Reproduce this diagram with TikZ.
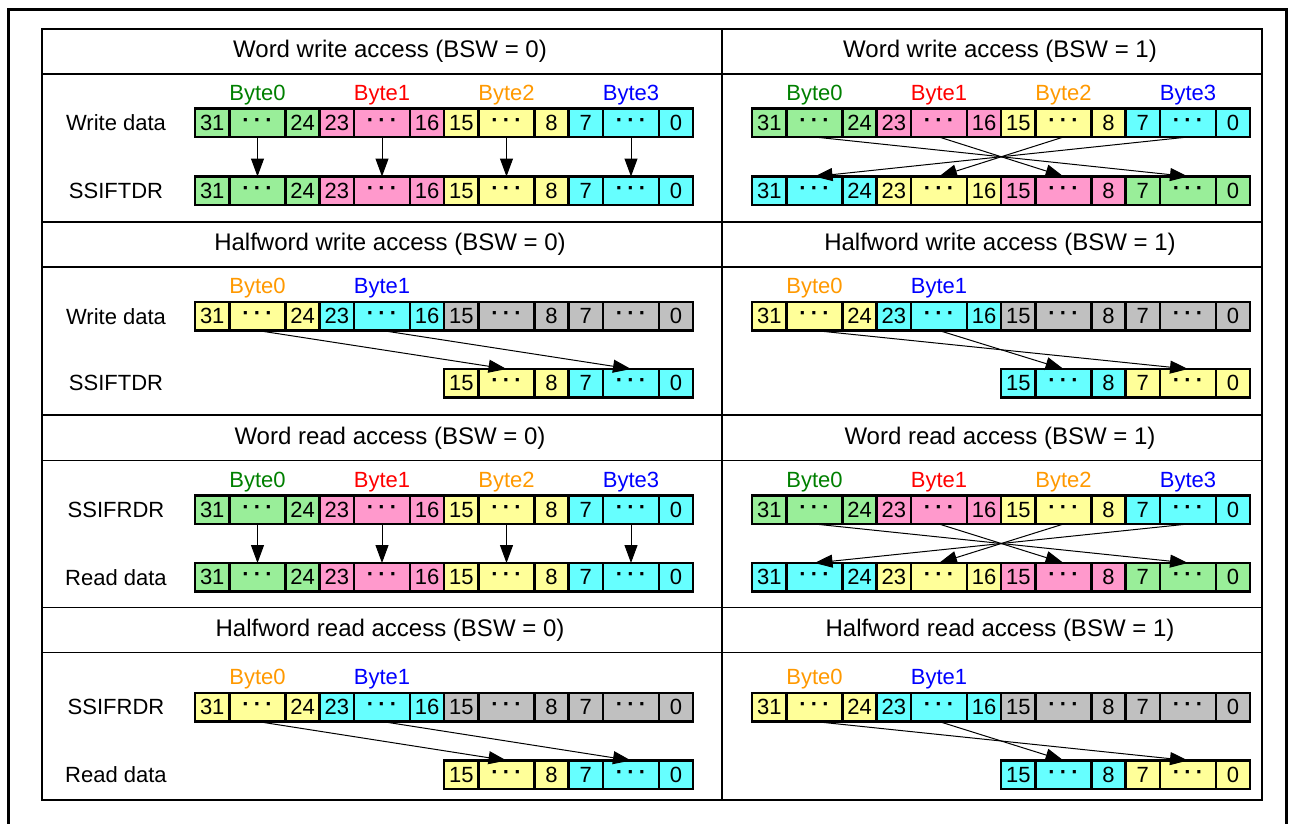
\documentclass[tikz,border=0pt]{standalone}
\usepackage{fontspec}
\setmainfont{Liberation Sans}
\usetikzlibrary{arrows.meta,calc}
\definecolor{cgreen}{HTML}{99EE99}
\definecolor{cpink}{HTML}{FF99CC}
\definecolor{cyel}{HTML}{FFFF99}
\definecolor{ccyan}{HTML}{66FFFF}
\definecolor{cgray}{HTML}{C0C0C0}
\definecolor{bgreen}{HTML}{008000}
\definecolor{bred}{HTML}{FF0000}
\definecolor{borange}{HTML}{FF9900}
\definecolor{bblue}{HTML}{0000FF}
\tikzset{
 cell/.style={draw=black,line width=2.5pt,inner sep=0pt,outer sep=0pt,minimum height=28.5pt,anchor=north west,font=\fontsize{22}{26}\selectfont},
 gridline/.style={line width=1.5pt,black},
 frameline/.style={line width=3pt,black},
 hdr/.style={font=\fontsize{24}{28}\selectfont},
 side/.style={font=\fontsize{22}{26}\selectfont},
 blbl/.style={font=\fontsize{22}{26}\selectfont},
 arr/.style={line width=1pt,-{Triangle[length=18pt,width=13pt]}},
}
\newcommand\dotsx{\bfseries\makebox[11.5pt]{·}\makebox[11.5pt]{·}\makebox[11.5pt]{·}}
\newcommand\bgrp[6]{%
 \node[cell,fill=#4,minimum width=34.5pt] (#1a) at (#2,#3) {#5};
 \node[cell,fill=#4,minimum width=56pt] (#1b) at (#1a.north east) {\dotsx};
 \node[cell,fill=#4,minimum width=34pt] (#1c) at (#1b.north east) {#6};}
\newcommand\wreg[7]{%
 \bgrp{#11}{#2}{#3}{#4}{31}{24}
 \bgrp{#12}{#2+124.5}{#3}{#5}{23}{16}
 \bgrp{#13}{#2+249}{#3}{#6}{15}{8}
 \bgrp{#14}{#2+373.5}{#3}{#7}{7}{0}}
\newcommand\hreg[5]{%
 \bgrp{#13}{#2+249}{#3}{#4}{15}{8}
 \bgrp{#14}{#2+373.5}{#3}{#5}{7}{0}}
\newcommand\blab[3]{\node[blbl,text=#2] (#1L) at ([yshift=13.5pt]#1.north) {#3};}
\newcommand\wordsec[5]{%
 \node[side] (#1Lt) at (116,#2+14.25) {#4};
 \node[side] (#1Lb) at (116,#3+14.25) {#5};
 \wreg{#1Lu}{195}{#2}{cgreen}{cpink}{cyel}{ccyan}
 \wreg{#1Ld}{195}{#3}{cgreen}{cpink}{cyel}{ccyan}
 \blab{#1Lu1b}{bgreen}{Byte0}\blab{#1Lu2b}{bred}{Byte1}
 \blab{#1Lu3b}{borange}{Byte2}\blab{#1Lu4b}{bblue}{Byte3}
 \draw[arr] (#1Lu1b.south) -- (#1Ld1b.north);
 \draw[arr] (#1Lu2b.south) -- (#1Ld2b.north);
 \draw[arr] (#1Lu3b.south) -- (#1Ld3b.north);
 \draw[arr] (#1Lu4b.south) -- (#1Ld4b.north);
 \wreg{#1Ru}{752}{#2}{cgreen}{cpink}{cyel}{ccyan}
 \wreg{#1Rd}{752}{#3}{ccyan}{cyel}{cpink}{cgreen}
 \blab{#1Ru1b}{bgreen}{Byte0}\blab{#1Ru2b}{bred}{Byte1}
 \blab{#1Ru3b}{borange}{Byte2}\blab{#1Ru4b}{bblue}{Byte3}
 \draw[arr] (#1Ru1b.south) -- (#1Rd4b.north);
 \draw[arr] (#1Ru2b.south) -- (#1Rd3b.north);
 \draw[arr] (#1Ru3b.south) -- (#1Rd2b.north);
 \draw[arr] (#1Ru4b.south) -- (#1Rd1b.north);}
\newcommand\halfsec[5]{%
 \node[side] (#1Lt) at (116,#2+14.25) {#4};
 \node[side] (#1Lb) at (116,#3+14.25) {#5};
 \wreg{#1Lu}{195}{#2}{cyel}{ccyan}{cgray}{cgray}
 \hreg{#1Ld}{195}{#3}{cyel}{ccyan}
 \blab{#1Lu1b}{borange}{Byte0}\blab{#1Lu2b}{bblue}{Byte1}
 \draw[arr] (#1Lu1b.south) -- (#1Ld3b.north);
 \draw[arr] (#1Lu2b.south) -- (#1Ld4b.north);
 \wreg{#1Ru}{752}{#2}{cyel}{ccyan}{cgray}{cgray}
 \hreg{#1Rd}{752}{#3}{ccyan}{cyel}
 \blab{#1Ru1b}{borange}{Byte0}\blab{#1Ru2b}{bblue}{Byte1}
 \draw[arr] (#1Ru1b.south) -- (#1Rd4b.north);
 \draw[arr] (#1Ru2b.south) -- (#1Rd3b.north);}
\begin{document}
\begin{tikzpicture}[x=1pt,y=-1pt]
\useasboundingbox (0,0) rectangle (1290,823);
\fill[white] (0,0) rectangle (1290,823);
% outer frame
\draw[frameline] (8,830) -- (8,9.5) -- (1286,9.5) -- (1286,830);
% table
\draw[gridline] (42,29) rectangle (1262,800);
\draw[gridline] (722,29) -- (722,800);
\foreach \yy in {74,222,267,415,460.5,607.5,652.5}
  \draw[gridline] (42,\yy) -- (1262,\yy);
% headers
\node[hdr] (h1l) at (390,51.5) {Word write access (BSW = 0)};
\node[hdr] (h1r) at (1000,51.5) {Word write access (BSW = 1)};
\node[hdr] (h2l) at (390,244.5) {Halfword write access (BSW = 0)};
\node[hdr] (h2r) at (1000,244.5) {Halfword write access (BSW = 1)};
\node[hdr] (h3l) at (390,438) {Word read access (BSW = 0)};
\node[hdr] (h3r) at (1000,438) {Word read access (BSW = 1)};
\node[hdr] (h4l) at (390,630) {Halfword read access (BSW = 0)};
\node[hdr] (h4r) at (1000,630) {Halfword read access (BSW = 1)};
% sections
\wordsec{ww}{108.5}{176.5}{Write data}{SSIFTDR}
\halfsec{hw}{302}{369}{Write data}{SSIFTDR}
\wordsec{wr}{495.5}{563}{SSIFRDR}{Read data}
\halfsec{hr}{693}{760.5}{SSIFRDR}{Read data}
\end{tikzpicture}
\end{document}
